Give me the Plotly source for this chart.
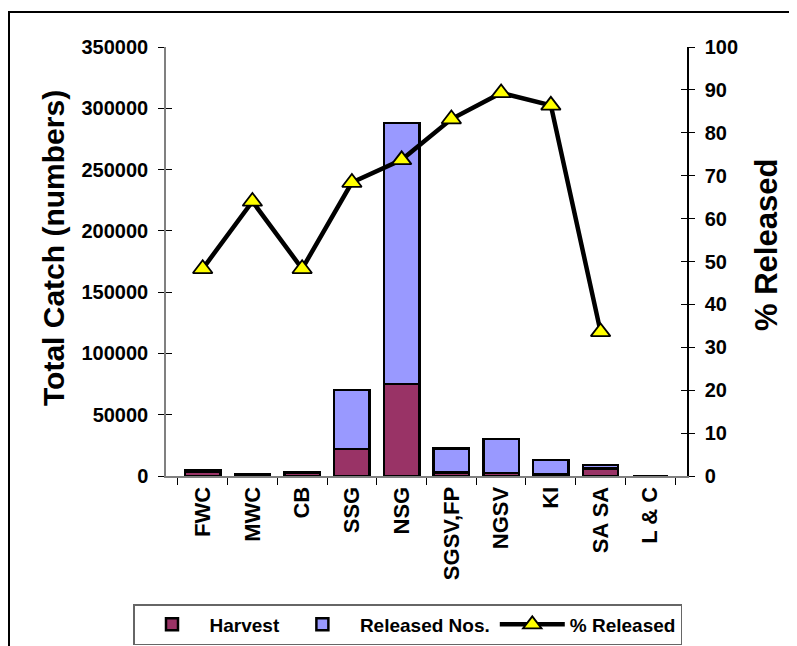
import plotly.graph_objects as go

categories = ["FWC", "MWC", "CB", "SSG", "NSG", "SGSV,FP", "NGSV", "KI", "SA SA", "L & C"]
harvest = [3500, 1200, 2500, 22000, 75000, 3000, 2500, 1500, 6000, 0]
released = [800, 500, 800, 48000, 213000, 19500, 27500, 11500, 3000, 0]
pct_released = [48.3, 64.0, 48.3, 68.4, 73.7, 83.2, 89.3, 86.4, 33.6, None]

# the page has an 8px body margin; figure coords = page coords - 8
OFF = 8
W, H = 797 - OFF, 646 - OFF
L, T = 166 - OFF, 47 - OFF
R = W - (687 - OFF)
B = H - (476 - OFF)
pw, ph = W - L - R, H - T - B

def px(x):
    return (x - OFF - L) / pw

def py(y):
    return (H - B - (y - OFF)) / ph

FONT = "Arial, Liberation Sans, sans-serif"

fig = go.Figure()
fig.add_trace(go.Bar(
    x=categories, y=harvest, name="Harvest",
    marker=dict(color="#993366", line=dict(color="black", width=2.5)),
))
fig.add_trace(go.Bar(
    x=categories, y=released, name="Released Nos.",
    marker=dict(color="#9999FF", line=dict(color="black", width=2.5)),
))
fig.add_trace(go.Scatter(
    x=categories, y=pct_released, name="% Released", yaxis="y2",
    mode="lines+markers",
    line=dict(color="black", width=4.5),
    marker=dict(symbol="triangle-up", size=17, color="#FFFF00",
                line=dict(color="black", width=1.8)),
))
# helper traces so the inner half of the crossing ticks can be drawn
fig.add_trace(go.Scatter(x=categories, y=[None] * len(categories), yaxis="y3",
                         showlegend=False, hoverinfo="skip"))
fig.add_trace(go.Scatter(x=categories, y=[None] * len(categories), yaxis="y4",
                         showlegend=False, hoverinfo="skip"))

tickfont = dict(family=FONT, size=20, color="black", weight="bold")
titlefont_l = dict(family=FONT, size=30, color="black", weight="bold")
titlefont_r = dict(family=FONT, size=31, color="black", weight="bold")

fig.update_layout(
    width=W, height=H, autosize=False,
    margin=dict(l=L, r=R, t=T, b=B, autoexpand=False),
    paper_bgcolor="white", plot_bgcolor="white",
    barmode="stack", bargap=0.29,
    font=dict(family=FONT, size=20, color="black", weight="bold"),
    showlegend=True,
    legend=dict(
        orientation="h", x=px(133), y=py(604), xanchor="left", yanchor="top",
        bordercolor="#666666", borderwidth=1.5, bgcolor="white",
        font=dict(family=FONT, size=19, color="black", weight="bold"),
        traceorder="normal", itemwidth=65,
    ),
    xaxis=dict(
        type="category", showgrid=False, showline=True, linecolor="#808080", linewidth=2,
        ticks="outside", tickson="boundaries", ticklen=7, tickcolor="black", tickwidth=1,
        tickangle=-90,
        tickfont=dict(family=FONT, size=22, color="black", weight="bold"),
    ),
    yaxis=dict(
        range=[0, 350000], dtick=50000, tickformat="d",
        showgrid=False, zeroline=False, showline=True, linecolor="#808080", linewidth=1.5,
        ticks="outside", ticklen=6, tickcolor="black", ticklabelstandoff=6,
        tickfont=tickfont,
    ),
    yaxis2=dict(
        overlaying="y", side="right", range=[0, 100], dtick=10,
        showgrid=False, zeroline=False, showline=True, linecolor="black", linewidth=1.5,
        ticks="outside", ticklen=6, tickcolor="black", ticklabelstandoff=6,
        tickfont=tickfont,
    ),
    yaxis3=dict(
        overlaying="y", side="left", anchor="x", range=[0, 350000], dtick=50000,
        showgrid=False, zeroline=False, showline=False, showticklabels=False,
        ticks="inside", ticklen=6, tickcolor="black",
    ),
    yaxis4=dict(
        overlaying="y", side="right", anchor="x", range=[0, 100], dtick=10,
        showgrid=False, zeroline=False, showline=False, showticklabels=False,
        ticks="inside", ticklen=6, tickcolor="black",
    ),
    annotations=[
        dict(text="Total Catch (numbers)", textangle=-90, showarrow=False,
             xref="paper", yref="paper", x=px(53), y=py(248),
             xanchor="center", yanchor="middle", font=titlefont_l),
        dict(text="% Released", textangle=-90, showarrow=False,
             xref="paper", yref="paper", x=px(766), y=py(245),
             xanchor="center", yanchor="middle", font=titlefont_r),
    ],
    shapes=[dict(
        type="rect", xref="paper", yref="paper",
        x0=px(9), x1=px(830), y0=py(680), y1=py(12),
        line=dict(color="black", width=2), fillcolor="rgba(0,0,0,0)", layer="below",
    )],
)

fig.write_html("out.html")
